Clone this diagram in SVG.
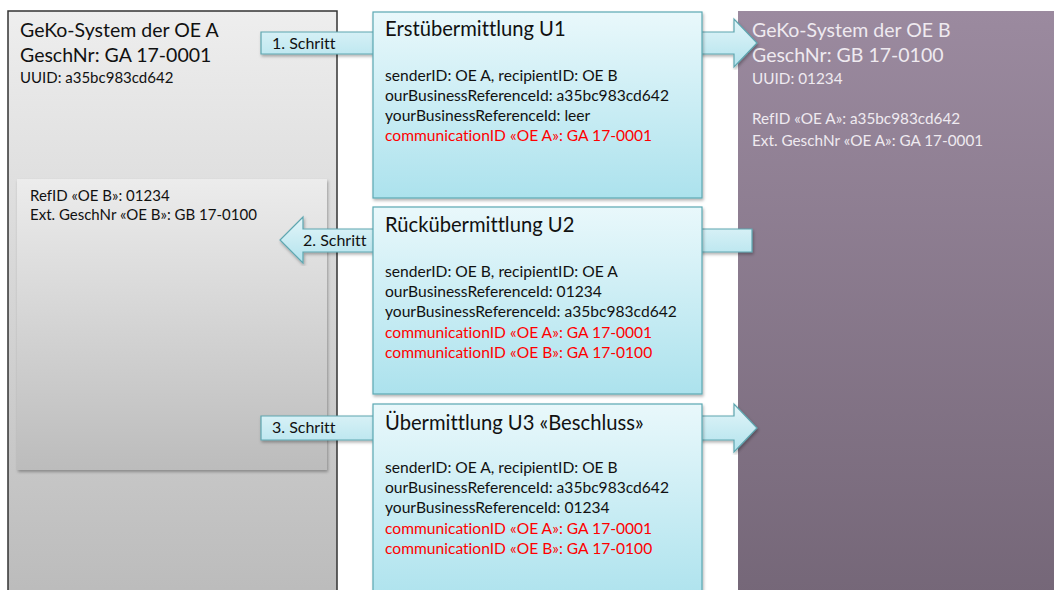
<svg xmlns="http://www.w3.org/2000/svg" width="1054" height="590" viewBox="0 0 1054 590">
<defs>
<linearGradient id="gGray" x1="0" y1="0" x2="0" y2="1">
<stop offset="0" stop-color="#eeeeee"/><stop offset="1" stop-color="#bababa"/>
</linearGradient>
<linearGradient id="gInner" x1="0" y1="0" x2="0" y2="1">
<stop offset="0" stop-color="#ececec"/><stop offset="1" stop-color="#bcbcbc"/>
</linearGradient>
<linearGradient id="gPurple" x1="0" y1="0" x2="0" y2="1">
<stop offset="0" stop-color="#9b8a9f"/><stop offset="1" stop-color="#746677"/>
</linearGradient>
<linearGradient id="gCyan" x1="0" y1="0" x2="0" y2="1">
<stop offset="0" stop-color="#e9f8fb"/><stop offset="1" stop-color="#ace2ed"/>
</linearGradient>
<linearGradient id="gArrow" x1="0" y1="0" x2="0" y2="1">
<stop offset="0" stop-color="#e3f5f9"/><stop offset="1" stop-color="#b2e3ed"/>
</linearGradient>
<filter id="sh" x="-5%" y="-5%" width="110%" height="110%">
<feDropShadow dx="1" dy="2" stdDeviation="1.5" flood-color="#000" flood-opacity="0.3"/>
</filter>
</defs>
<style>
text{font-family:Lato,"Liberation Sans",Arial,sans-serif;font-variant-ligatures:none;}
.big{font-size:19.5px;fill:#111;}
.sm{font-size:15px;fill:#111;}
.wbig{font-size:19.5px;fill:#efeaf0;}
.wsm{font-size:15.3px;fill:#efeaf0;}
.ttl{font-size:20.2px;fill:#111;}
.ln{font-size:15.6px;fill:#111;}
.red{font-size:15.6px;fill:#ff0000;}
.lbl{font-size:16px;fill:#111;}
.msg{fill:url(#gCyan);stroke:#5aa8b3;stroke-width:1.2;filter:url(#sh);}
.arr{fill:url(#gArrow);stroke:#5ea6b0;stroke-width:1.2;filter:url(#sh);}
</style>
<rect width="1054" height="590" fill="#ffffff"/>

<g id="systemA">
<rect x="8" y="11" width="329" height="600" fill="url(#gGray)" stroke="#333" stroke-width="1.5"/>
<text class="big" x="20" y="37">GeKo-System der OE A</text>
<text class="big" x="20" y="62">GeschNr: GA 17-0001</text>
<text class="sm" x="20" y="83">UUID: a35bc983cd642</text>
</g>
<g id="refA">
<rect x="17" y="179" width="310" height="291" fill="url(#gInner)" filter="url(#sh)"/>
<text class="sm" x="30" y="201">RefID «OE B»: 01234</text>
<text class="sm" x="30" y="220">Ext. GeschNr «OE B»: GB 17-0100</text>
</g>

<g id="systemB">
<rect x="738" y="11" width="320" height="600" fill="url(#gPurple)"/>
<text class="wbig" x="752" y="37">GeKo-System der OE B</text>
<text class="wbig" x="752" y="62">GeschNr: GB 17-0100</text>
<text class="wsm" x="752" y="84">UUID: 01234</text>
<text class="wsm" x="752" y="124">RefID «OE A»: a35bc983cd642</text>
<text class="wsm" x="752" y="146">Ext. GeschNr «OE A»: GA 17-0001</text>
</g>

<g id="connectors">
<g id="step1">
<path class="arr" d="M261,32 H734 V19 L757,43 L734,67 V54 H261 Z"/>
<text class="lbl" x="272" y="49">1. Schritt</text>
</g>
<g id="step2">
<path class="arr" d="M752,229 H303 V217 L280,240 L303,263 V252 H752 Z"/>
<text class="lbl" x="303" y="246">2. Schritt</text>
</g>
<g id="step3">
<path class="arr" d="M261,416 H734 V404 L757,428 L734,452 V440 H261 Z"/>
<text class="lbl" x="272" y="433">3. Schritt</text>
</g>
</g>

<g id="U1">
<rect class="msg" x="373" y="12" width="329" height="186"/>
<text class="ttl" x="385" y="36">Erstübermittlung U1</text>
<text class="ln" x="385" y="81">senderID: OE A, recipientID: OE B</text>
<text class="ln" x="385" y="101">ourBusinessReferenceId: a35bc983cd642</text>
<text class="ln" x="385" y="121">yourBusinessReferenceId: leer</text>
<text class="red" x="385" y="141">communicationID «OE A»: GA 17-0001</text>
</g>

<g id="U2">
<rect class="msg" x="373" y="207" width="329" height="187"/>
<text class="ttl" x="385" y="232">Rückübermittlung U2</text>
<text class="ln" x="385" y="277">senderID: OE B, recipientID: OE A</text>
<text class="ln" x="385" y="297">ourBusinessReferenceId: 01234</text>
<text class="ln" x="385" y="317">yourBusinessReferenceId: a35bc983cd642</text>
<text class="red" x="385" y="338">communicationID «OE A»: GA 17-0001</text>
<text class="red" x="385" y="358">communicationID «OE B»: GA 17-0100</text>
</g>

<g id="U3">
<rect class="msg" x="373" y="404" width="329" height="200"/>
<text class="ttl" x="385" y="430">Übermittlung U3 «Beschluss»</text>
<text class="ln" x="385" y="473">senderID: OE A, recipientID: OE B</text>
<text class="ln" x="385" y="493">ourBusinessReferenceId: a35bc983cd642</text>
<text class="ln" x="385" y="513">yourBusinessReferenceId: 01234</text>
<text class="red" x="385" y="534">communicationID «OE A»: GA 17-0001</text>
<text class="red" x="385" y="554">communicationID «OE B»: GA 17-0100</text>
</g>
</svg>
